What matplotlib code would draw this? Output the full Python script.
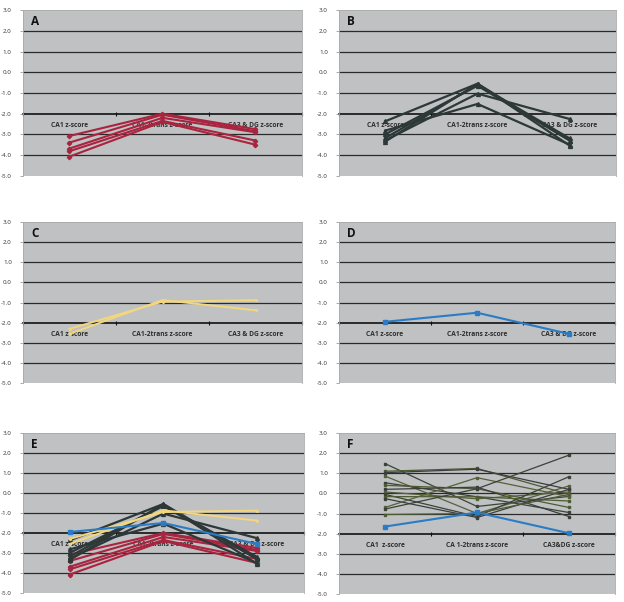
import matplotlib
matplotlib.use("Agg")
import matplotlib.pyplot as plt

plt.rcParams['font.family'] = ['Open Sans', 'DejaVu Sans']

categories = ["CA1 z-score", "CA1-2trans z-score", "CA3 & DG z-score"]
categories_f = ["CA1  z-score", "CA 1-2trans z-score", "CA3&DG z-score"]
yticks = [3.0, 2.0, 1.0, 0.0, -1.0, -2.0, -3.0, -4.0, -5.0]

# Panel A (red)
a_lines = [
    [-3.08, -2.00, -2.75],
    [-3.40, -2.05, -2.85],
    [-3.69, -2.20, -2.90],
    [-3.82, -2.35, -3.30],
    [-4.08, -2.40, -3.50],
]
# Panel B (dark)
b_lines = [
    [-2.37, -0.55, -3.30],
    [-2.82, -1.53, -3.50],
    [-3.00, -0.65, -3.30],
    [-3.18, -0.60, -3.20],
    [-3.29, -1.03, -2.26],
    [-3.35, -0.55, -3.55],
]
# Panel C (yellow)
c_lines = [
    [-2.30, -0.95, -0.88],
    [-2.55, -0.87, -1.38],
]
# Panel D (blue)
d_line = [-1.95, -1.50, -2.55]
# Panel F (dark/olive + blue)
f_lines = [
    [1.48, -0.65, -0.15],
    [1.10, 1.24, -0.05],
    [1.03, 1.20, 0.20],
    [0.86, -1.00, 0.37],
    [0.53, -0.17, -0.95],
    [0.40, 0.23, -0.70],
    [0.20, 0.31, -1.15],
    [0.07, -0.27, 0.07],
    [-0.05, -1.15, 0.83],
    [-0.16, -0.17, -0.38],
    [-0.26, -1.20, 0.20],
    [-0.70, 0.78, -0.16],
    [-0.78, 0.23, 1.90],
    [-1.05, -1.00, -0.05],
]
f_blue = [-1.65, -0.95, -1.98]

RED = '#a8243f'
DARK = '#2d3838'
YEL = '#f3d77c'
BLUE = '#2a7cc6'
OLIVE = ['#3b4238', '#4d5a34', '#3a3f3e', '#56603a']
BG = '#bfc1c3'

fig = plt.figure(figsize=(6.24, 6.02), dpi=100)
W, H = 624, 602

def make_ax(l, r, t, b):
    return fig.add_axes([l / W, 1 - b / H, (r - l) / W, (b - t) / H])

def style(ax, letter, cats):
    ax.set_facecolor(BG)
    ax.set_xlim(-0.5, 2.5)
    ax.set_ylim(-5, 3)
    ax.set_yticks(yticks)
    ax.set_yticklabels([f"{v:.1f}" for v in yticks], fontsize=4.5, color='#333333')
    for v in yticks:
        if -5 < v < 3 and v != -2:
            ax.axhline(v, color='#2a2a2a', lw=0.9, zorder=1)
    for s in ['top', 'right', 'left']:
        ax.spines[s].set_color('#a8a8a8')
        ax.spines[s].set_linewidth(0.6)
    ax.spines['bottom'].set_position(('data', -2))
    ax.spines['bottom'].set_color('#111111')
    ax.spines['bottom'].set_linewidth(1.2)
    ax.spines['bottom'].set_zorder(1.5)
    ax.set_xticks([-0.5, 0.5, 1.5, 2.5])
    ax.set_xticklabels([])
    ax.tick_params(axis='x', direction='inout', length=3, width=0.8, color='#111111')
    ax.tick_params(axis='y', direction='out', length=2, width=0.5, color='#888888', pad=6)
    for i, c in enumerate(cats):
        ax.text(i, -2.57, c, ha='center', va='center', fontsize=4.8, fontweight='bold',
                color='#2e2e2e', zorder=1.6)
    ax.text(0.03, 0.93, letter, transform=ax.transAxes, fontsize=8.5, fontweight='bold',
            color='#111111', va='center', ha='left')

x = [0, 1, 2]

def draw_a(ax):
    for ln in a_lines:
        ax.plot(x, ln, color=RED, lw=1.5, marker='D', ms=2.2, zorder=3)

def draw_b(ax):
    for ln in b_lines:
        ax.plot(x, ln, color=DARK, lw=1.6, marker='^', ms=2.8, zorder=3)

def draw_c(ax):
    for ln in c_lines:
        ax.plot(x, ln, color=YEL, lw=1.4, marker='o', ms=1.2, zorder=3)

def draw_d(ax):
    ax.plot(x, d_line, color=BLUE, lw=1.5, marker='s', ms=3.5, zorder=4)

axA = make_ax(22.7, 302, 10.3, 175.7)
style(axA, 'A', categories)
draw_a(axA)

axB = make_ax(339, 616, 10.3, 175.7)
style(axB, 'B', categories)
draw_b(axB)

axC = make_ax(23, 302, 222, 383.3)
style(axC, 'C', categories)
draw_c(axC)

axD = make_ax(339, 615, 222, 383.3)
style(axD, 'D', categories)
draw_d(axD)

axE = make_ax(22.7, 304, 433, 593)
style(axE, 'E', categories)
draw_a(axE)
draw_b(axE)
draw_c(axE)
draw_d(axE)

axF = make_ax(339, 615, 433, 594)
style(axF, 'F', categories_f)
for i, ln in enumerate(f_lines):
    axF.plot(x, ln, color=OLIVE[i % len(OLIVE)], lw=0.9, marker='s', ms=2.0, zorder=3)
axF.plot(x, f_blue, color=BLUE, lw=1.5, marker='s', ms=3.5, zorder=4)

fig.savefig('out.png', dpi=100, facecolor='white')
